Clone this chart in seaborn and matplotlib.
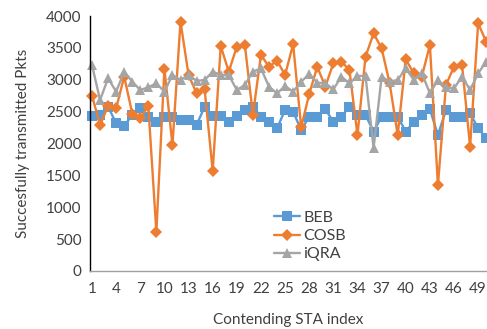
import numpy as np
import pandas as pd
import seaborn as sns
import matplotlib
matplotlib.use("Agg")
import matplotlib.pyplot as plt

idx = list(range(1, 51))
beb = [2437, 2440, 2578, 2316, 2275, 2450, 2552, 2421, 2343, 2421,
       2421, 2369, 2369, 2290, 2578, 2437, 2437, 2343, 2437, 2525,
       2578, 2421, 2343, 2238, 2525, 2499, 2212, 2421, 2421, 2536,
       2343, 2421, 2578, 2447, 2447, 2186, 2421, 2421, 2421, 2186,
       2343, 2447, 2536, 2133, 2525, 2410, 2410, 2473, 2238, 2081]
cosb = [2750, 2290, 2588, 2552, 3050, 2470, 2397, 2590, 612, 3169,
        1976, 3911, 3075, 2787, 2850, 1575, 3529, 3127, 3519, 3545,
        2447, 3388, 3205, 3299, 3075, 3556, 2254, 2776, 3205, 2891,
        3258, 3284, 3153, 2133, 3362, 3728, 3493, 2944, 2133, 3320,
        3101, 3050, 3545, 1349, 2918, 3205, 3231, 1950, 3885, 3597]
iqra = [3231, 2682, 3022, 2813, 3127, 2970, 2839, 2881, 2944, 2813,
        3075, 2996, 3075, 2983, 2996, 3127, 3075, 3075, 2839, 2918,
        3127, 3180, 2891, 2787, 2902, 2813, 2970, 3090, 2955, 2944,
        2850, 3048, 2944, 3059, 3059, 1930, 3048, 2970, 2996, 3180,
        2996, 3101, 2787, 2996, 2881, 2865, 3048, 2839, 3101, 3284]
series = ["BEB", "COSB", "iQRA"]
xticks = list(range(1, 51, 3))
yticks = list(range(0, 4001, 500))

df = pd.DataFrame({
    "idx": idx * 3,
    "val": beb + cosb + iqra,
    "series": ["BEB"] * 50 + ["COSB"] * 50 + ["iQRA"] * 50,
})

sns.set_style("white")
plt.rcParams['font.family'] = ['Lato', 'DejaVu Sans']

fig = plt.figure(figsize=(4.87, 3.29), dpi=100)
ax = fig.add_axes([90/487, 58/329, 397/487, 255/329])

palette = {"BEB": "#5B9BD5", "COSB": "#ED7D31", "iQRA": "#A5A5A5"}
markers = {"BEB": "s", "COSB": "D", "iQRA": "^"}
sizes = {"BEB": 6.8, "COSB": 5.8, "iQRA": 7.3}
for s in series:
    sub = df[df["series"] == s]
    sns.lineplot(data=sub, x="idx", y="val", color=palette[s], marker=markers[s],
                 markersize=sizes[s], markeredgewidth=0, linewidth=1.7,
                 label=s, ax=ax, clip_on=False)

ax.set_xlim(0.75, 50.1)
ax.set_ylim(0, 4000)
ax.set_xticks(xticks)
ax.set_yticks(yticks)
ax.tick_params(axis='both', length=0, labelsize=11, colors="#404040", pad=6)
ax.tick_params(axis='x', pad=8)
ax.set_xlabel("Contending STA index", fontsize=11, color="#404040", labelpad=12)
ax.set_ylabel("Succesfully transmitted Pkts", fontsize=11, color="#404040", labelpad=12)
for side in ["top", "right"]:
    ax.spines[side].set_visible(False)
ax.spines["left"].set_color("black")
ax.spines["left"].set_linewidth(1.0)
ax.spines["bottom"].set_color("#A0A0A0")
ax.spines["bottom"].set_linewidth(1.0)
ax.grid(False)

leg = ax.legend(loc="lower left", bbox_to_anchor=(0.44, 0.0), frameon=False,
                fontsize=11.5, handlelength=1.6, handletextpad=0.2,
                labelspacing=0.25, borderaxespad=0.2)
for t in leg.get_texts():
    t.set_color("#404040")

fig.savefig("out.png", dpi=100)
